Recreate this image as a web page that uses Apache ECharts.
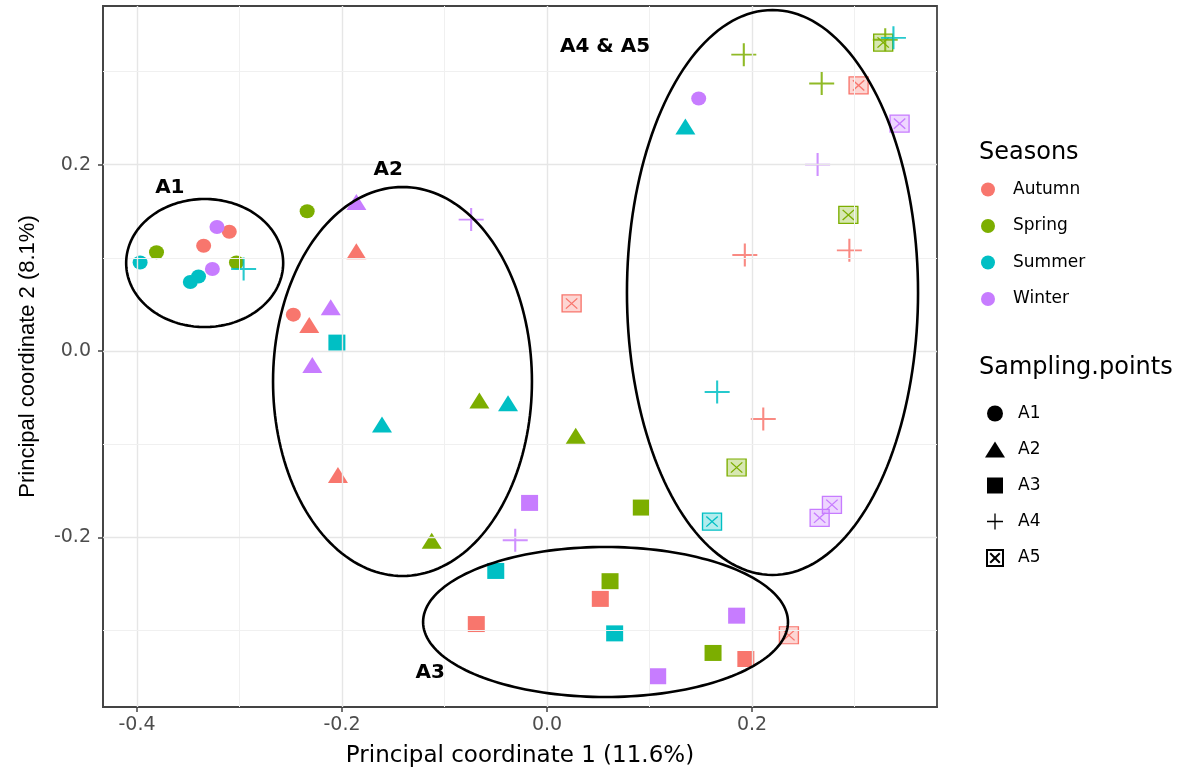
<!DOCTYPE html>
<html><head><meta charset="utf-8">
<script src="https://cdn.jsdelivr.net/npm/echarts@6/dist/echarts.min.js"></script>
<style>html,body{margin:0;padding:0;background:#fff}#c{width:1179px;height:776px}</style>
</head><body><div id="c"></div>
<script>
// ---- data ----
const seasons = ['Autumn', 'Spring', 'Summer', 'Winter'];
const sites = ['A1', 'A2', 'A3', 'A4', 'A5'];
// [PCo1, PCo2, sampling point]
const autumn = [
  [-0.310, 0.128, 'A1'], [-0.335, 0.113, 'A1'], [-0.2475, 0.039, 'A1'],
  [-0.186, 0.107, 'A2'], [-0.232, 0.028, 'A2'], [-0.204, -0.133, 'A2'],
  [0.052, -0.266, 'A3'], [-0.069, -0.293, 'A3'], [0.194, -0.3305, 'A3'],
  [0.193, 0.103, 'A4'], [0.295, 0.108, 'A4'], [0.211, -0.073, 'A4'],
  [0.024, 0.051, 'A5'], [0.304, 0.285, 'A5'], [0.236, -0.305, 'A5']
];
const spring = [
  [-0.381, 0.106, 'A1'], [-0.303, 0.095, 'A1'], [-0.234, 0.150, 'A1'],
  [-0.066, -0.053, 'A2'], [-0.1125, -0.2035, 'A2'], [0.028, -0.091, 'A2'],
  [0.092, -0.168, 'A3'], [0.0615, -0.247, 'A3'], [0.162, -0.324, 'A3'],
  [0.192, 0.318, 'A4'], [0.268, 0.287, 'A4'], [0.330, 0.334, 'A4'],
  [0.328, 0.331, 'A5'], [0.294, 0.146, 'A5'], [0.185, -0.125, 'A5']
];
const summer = [
  [-0.397, 0.095, 'A1'], [-0.348, 0.074, 'A1'], [-0.340, 0.080, 'A1'],
  [-0.038, -0.056, 'A2'], [-0.161, -0.079, 'A2'], [0.135, 0.241, 'A2'],
  [-0.205, 0.009, 'A3'], [-0.050, -0.236, 'A3'], [0.066, -0.303, 'A3'],
  [-0.296, 0.088, 'A4'], [0.166, -0.044, 'A4'], [0.338, 0.336, 'A4'],
  [0.161, -0.183, 'A5']
];
const winter = [
  [-0.322, 0.133, 'A1'], [-0.3265, 0.088, 'A1'], [0.148, 0.271, 'A1'],
  [-0.186, 0.160, 'A2'], [-0.211, 0.047, 'A2'], [-0.229, -0.015, 'A2'],
  [-0.017, -0.163, 'A3'], [0.185, -0.284, 'A3'], [0.108, -0.349, 'A3'],
  [-0.074, 0.141, 'A4'], [-0.031, -0.203, 'A4'], [0.264, 0.200, 'A4'],
  [0.344, 0.244, 'A5'], [0.266, -0.179, 'A5'], [0.278, -0.165, 'A5']
];
const xTicks = [-0.4, -0.2, 0.0, 0.2];
const yTicks = [-0.2, 0.0, 0.2];
const xMinor = [-0.3, -0.1, 0.1, 0.3];
const yMinor = [-0.3, -0.1, 0.1, 0.3];
// group ellipses: [centre x, centre y, radius x, radius y] in data units
const groupEllipses = [
  [-0.334, 0.0944, 0.0766, 0.0687],
  [-0.141, -0.0327, 0.1263, 0.2087],
  [0.0571, -0.2908, 0.178, 0.0805],
  [0.220, 0.0628, 0.142, 0.3031]
];
const groupNames = ['A1', 'A2', 'A3', 'A4 & A5'];
const groupNameX = [-0.368, -0.155, -0.114, 0.0566];
const groupNameY = [0.175, 0.194, -0.3455, 0.3262];

// ---- styles ----
const seasonColors = ['#F8766D', '#7CAE00', '#00BFC4', '#C77CFF'];
const PLUS = 'path://M0,11H24V13H0Z M11,0H13V24H11Z';
const BOXX = 'path://M0,0H20V20H0Z M4,4L16,16 M16,4L4,16';
const TRI = 'path://M10,0L20,16L0,16Z';
const SQR = 'path://M0,0H10V10H0Z';
const shapeOf = { A1: 'circle', A2: 'triangle', A3: 'rect', A4: PLUS, A5: BOXX };
const legendShape = { A1: 'circle', A2: TRI, A3: SQR, A4: PLUS, A5: BOXX };
const sizeOf = { A1: [15, 14], A2: [20, 16], A3: [17, 16], A4: [25, 23], A5: [19, 17] };
function rgba(hex, a) {
  const n = parseInt(hex.slice(1), 16);
  return 'rgba(' + (n >> 16) + ',' + ((n >> 8) & 255) + ',' + (n & 255) + ',' + a + ')';
}
const FONT = 'DejaVu Sans';

const chart = echarts.init(document.getElementById('c'));
const series = [];

// grid lines
const gridLines = [];
xTicks.forEach(v => gridLines.push({ xAxis: v, lineStyle: { color: '#e6e6e6', width: 1.4, type: 'solid' } }));
xMinor.forEach(v => gridLines.push({ xAxis: v, lineStyle: { color: '#f0f0f0', width: 1, type: 'solid' } }));
yTicks.forEach(v => gridLines.push({ yAxis: v, lineStyle: { color: '#e6e6e6', width: 1.4, type: 'solid' } }));
yMinor.forEach(v => gridLines.push({ yAxis: v, lineStyle: { color: '#f0f0f0', width: 1, type: 'solid' } }));
series.push({
  type: 'scatter', name: '_grid', data: [], z: 1, silent: true,
  markLine: { silent: true, symbol: 'none', label: { show: false }, animation: false, data: gridLines }
});

[autumn, spring, summer, winter].forEach((pts, i) => {
  const col = seasonColors[i];
  series.push({
    type: 'scatter', name: seasons[i], z: 3,
    itemStyle: { color: col, opacity: 1 },
    emphasis: { disabled: true },
    data: pts.map(p => {
      const site = p[2];
      const item = { value: [p[0], p[1]], symbol: shapeOf[site], symbolSize: sizeOf[site] };
      if (site === 'A4') item.itemStyle = { color: col, opacity: 0.85 };
      if (site === 'A5') item.itemStyle = { color: rgba(col, 0.3), borderColor: col, borderWidth: 1.3, opacity: 1 };
      return item;
    })
  });
});

// dummy series for the sampling point legend
sites.forEach(s => {
  const st = s === 'A5' ? { color: '#ffffff', borderColor: '#000', borderWidth: 1.5, opacity: 1 } : { color: '#000', opacity: 1 };
  series.push({ type: 'scatter', name: s, data: [], symbol: legendShape[s], itemStyle: st });
});

// ellipses
series.push({
  type: 'custom', name: '_ellipses', z: 5, silent: true,
  data: groupEllipses,
  renderItem: function (params, api) {
    const cx = api.value(0), cy = api.value(1), rx = api.value(2), ry = api.value(3);
    const pts = [];
    for (let k = 0; k < 180; k++) {
      const t = k / 180 * Math.PI * 2;
      pts.push(api.coord([cx + rx * Math.cos(t), cy + ry * Math.sin(t)]));
    }
    return { type: 'polygon', shape: { points: pts }, style: { fill: 'none', stroke: '#000', lineWidth: 2.6 } };
  }
});
// group names
series.push({
  type: 'custom', name: '_names', z: 6, silent: true,
  data: groupNameX.map((x, i) => [x, groupNameY[i]]),
  renderItem: function (params, api) {
    const c = api.coord([api.value(0), api.value(1)]);
    return {
      type: 'text', x: c[0], y: c[1],
      style: { text: groupNames[params.dataIndex], fill: '#000', fontSize: 20, fontWeight: 'bold', fontFamily: FONT, align: 'center', verticalAlign: 'middle' }
    };
  }
});

chart.setOption({
  animation: false,
  backgroundColor: '#fff',
  grid: { left: 103, right: 242, top: 6, bottom: 69, show: true, backgroundColor: '#fff', borderColor: '#444', borderWidth: 1.8 },
  xAxis: {
    type: 'value', min: -0.4332, max: 0.3805,
    splitLine: { show: false }, axisLine: { show: true, onZero: false, lineStyle: { color: '#444', width: 1.8 } },
    axisTick: { show: true, customValues: xTicks, length: 5, lineStyle: { color: '#444', width: 1.5 } },
    axisLabel: { customValues: xTicks, formatter: v => v.toFixed(1), color: '#4d4d4d', fontSize: 19, fontFamily: FONT, margin: 9 },
    name: 'Principal coordinate 1 (11.6%)', nameLocation: 'middle', nameGap: 38,
    nameTextStyle: { color: '#000', fontSize: 23, fontFamily: FONT }
  },
  yAxis: {
    type: 'value', min: -0.382, max: 0.3702,
    splitLine: { show: false }, axisLine: { show: true, onZero: false, lineStyle: { color: '#444', width: 1.8 } },
    axisTick: { show: true, customValues: yTicks, length: 5, lineStyle: { color: '#444', width: 1.5 } },
    axisLabel: { customValues: yTicks, formatter: v => v.toFixed(1), color: '#4d4d4d', fontSize: 19, fontFamily: FONT, margin: 12 },
    name: 'Principal coordinate 2 (8.1%)', nameLocation: 'middle', nameGap: 64, nameRotate: 90,
    nameTextStyle: { color: '#000', fontSize: 22, fontFamily: 'Liberation Sans' }
  },
  title: [
    { text: 'Seasons', left: 979, top: 141, padding: 0, textStyle: { fontSize: 24, fontWeight: 'normal', fontFamily: FONT, color: '#000' } },
    { text: 'Sampling.points', left: 979, top: 356, padding: 0, textStyle: { fontSize: 24, fontWeight: 'normal', fontFamily: FONT, color: '#000' } }
  ],
  legend: [
    {
      orient: 'vertical', left: 981, top: 181, padding: 0, itemWidth: 40, itemHeight: 14, itemGap: 19.5,
      selectedMode: false,
      data: seasons.map(s => ({ name: s, icon: 'circle' })),
      textStyle: { fontSize: 17, fontFamily: FONT, color: '#000', lineHeight: 14 }
    },
    {
      orient: 'vertical', left: 985, top: 405, padding: 0, itemWidth: 36, itemHeight: 16, itemGap: 19,
      selectedMode: false,
      data: sites.map(s => ({ name: s, icon: legendShape[s] })),
      textStyle: { fontSize: 17, fontFamily: FONT, color: '#000', lineHeight: 16 }
    }
  ],
  series: series
});
</script>
</body></html>
